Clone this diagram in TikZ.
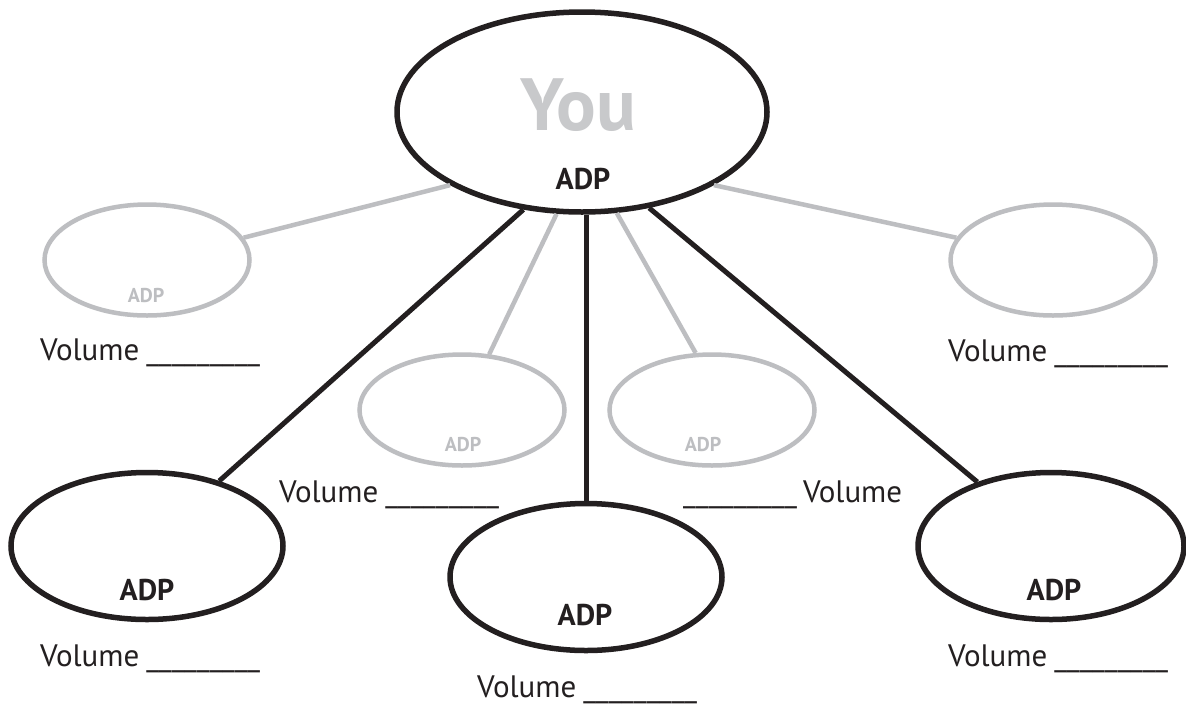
\documentclass[tikz,border=0pt]{standalone}
\usepackage{fontspec}
\setmainfont{PT Sans}
\usetikzlibrary{shapes.geometric}
\definecolor{ink}{HTML}{231F20}
\definecolor{lgray}{HTML}{BDBEC1}
\definecolor{ygray}{HTML}{C8C9CB}
\newcommand\blankline{\_\_\_\_\_\_\_\_\_}
\tikzset{
  bigoval/.style={ellipse, draw=ink, line width=5.5pt, inner sep=0pt, minimum width=272pt, minimum height=147pt},
  greyoval/.style={ellipse, draw=lgray, line width=4.5pt, inner sep=0pt, minimum width=205pt, minimum height=111pt},
  blackline/.style={draw=ink, line width=5pt},
  greyline/.style={draw=lgray, line width=4.5pt},
  adpbig/.style={anchor=base, inner sep=0pt, text=ink, font=\bfseries\fontsize{30}{30}\selectfont},
  adpsmall/.style={anchor=base, inner sep=0pt, text=lgray, font=\bfseries\fontsize{20}{20}\selectfont},
  voltext/.style={anchor=base west, inner sep=0pt, text=ink, font=\fontsize{31}{31}\selectfont}
}
\begin{document}
\begin{tikzpicture}[x=1pt,y=-1pt]
\useasboundingbox[fill=white] (0,0) rectangle (1186,705);
% centre
\node[ellipse, draw=ink, line width=5.5pt, inner sep=0pt, minimum width=370pt, minimum height=200pt] (C) at (582,112) {};
\node[anchor=base, inner sep=0pt, text=ygray, font=\bfseries\fontsize{74}{74}\selectfont] (you) at (578,130) {You};
\node[adpbig] (adpC) at (583,189) {ADP};
% grey ovals
\node[greyoval] (GL) at (147,260) {};
\node[greyoval] (GML) at (462,410) {};
\node[greyoval] (GMR) at (712,410) {};
\node[greyoval] (GR) at (1053,260) {};
\node[adpsmall] (adpGL) at (146,302) {ADP};
\node[adpsmall] (adpGML) at (463,451) {ADP};
\node[adpsmall] (adpGMR) at (703,451) {ADP};
% black ovals
\node[bigoval] (BL) at (147,546) {};
\node[bigoval] (BC) at (586,577) {};
\node[bigoval, minimum width=266pt] (BR) at (1051,546) {};
\node[adpbig] (adpBL) at (147,600) {ADP};
\node[adpbig] (adpBC) at (585,625) {ADP};
\node[adpbig] (adpBR) at (1054,600) {ADP};
% connectors
\draw[greyline] (C.209) -- (GL.13);
\draw[greyline] (C.331) -- (GR.167);
\draw[greyline] (C.256) -- (GML.64);
\draw[greyline] (C.289) -- (GMR.106);
\draw[blackline] (C.239) -- (BL.42);
\draw[blackline] (BC.north) -- (BC.north |- C.south);
\draw[blackline] (C.305) -- (BR.139);
% volume labels
\node[voltext] (v1) at (40,360) {Volume\hspace{7pt}\blankline};
\node[voltext] (v2) at (948,361) {Volume\hspace{7pt}\blankline};
\node[voltext] (v3) at (279,502) {Volume\hspace{7pt}\blankline};
\node[voltext] (v4) at (683,502) {\blankline\hspace{6pt}Volume};
\node[voltext] (v5) at (40,666) {Volume\hspace{7pt}\blankline};
\node[voltext] (v6) at (477,697) {Volume\hspace{7pt}\blankline};
\node[voltext] (v7) at (948,666) {Volume\hspace{7pt}\blankline};
\end{tikzpicture}
\end{document}
